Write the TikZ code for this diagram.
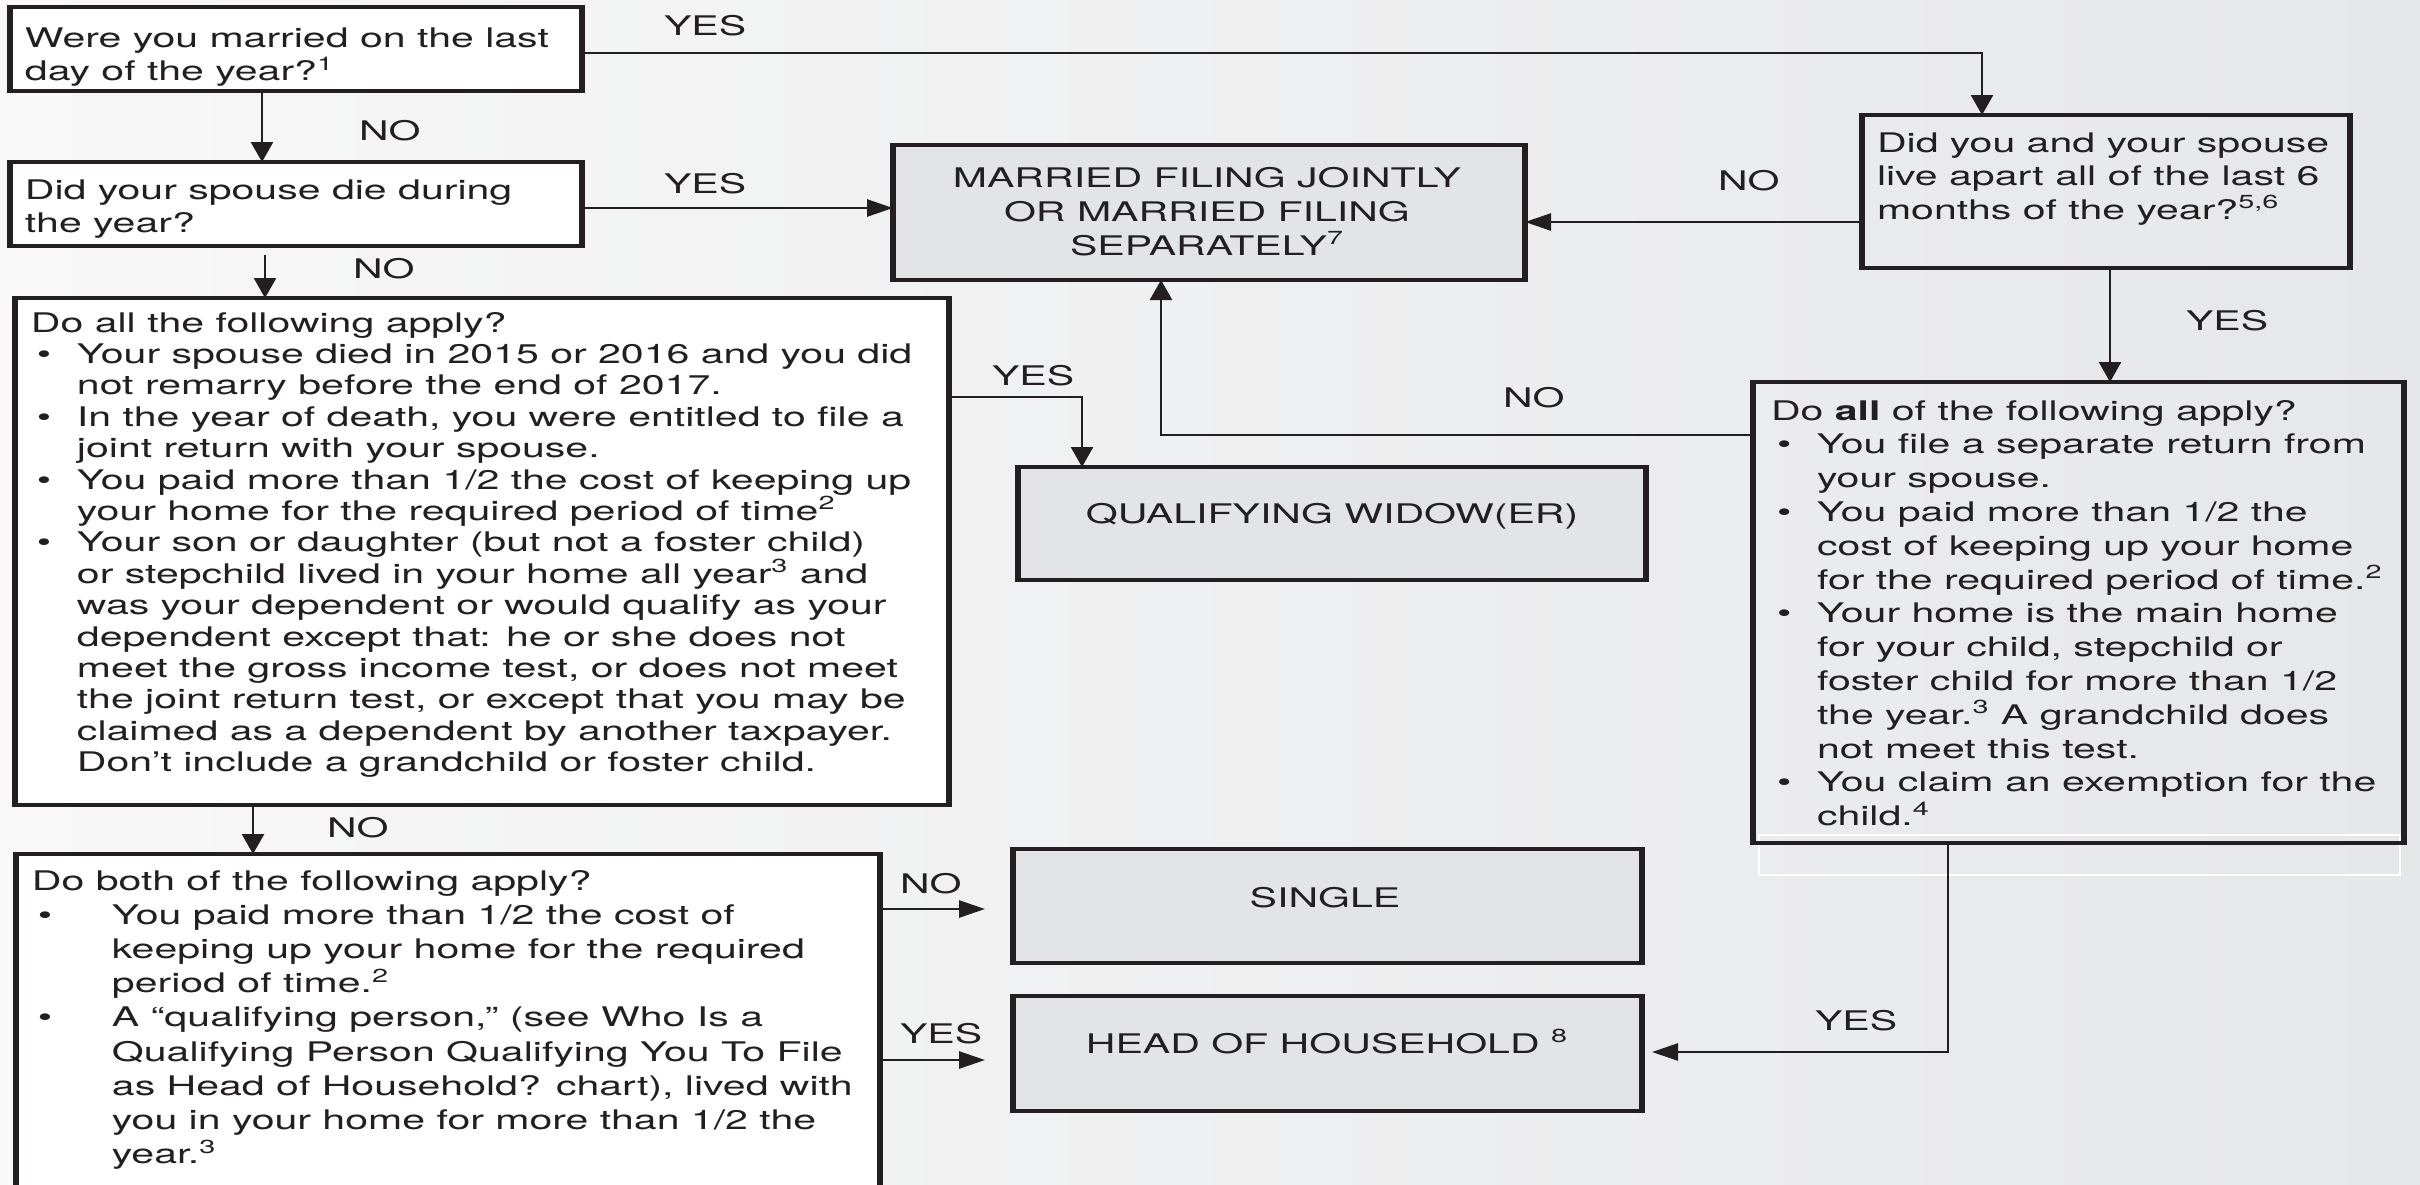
\documentclass[tikz,border=0pt]{standalone}
\usepackage{fontspec}
\setmainfont{TeX Gyre Heros}[FakeStretch=1.52]
\usetikzlibrary{arrows.meta,calc}
\definecolor{ink}{HTML}{231F20}
\definecolor{bgl}{HTML}{F8F8F8}
\definecolor{bgr}{HTML}{E6E7E9}
\definecolor{res}{HTML}{E3E4E6}
\newcommand\fl{\rule{0pt}{12pt}}
\newcommand\bA{\hspace*{3pt}\makebox[20pt][l]{\textbullet}}
\newcommand\cA{\hspace*{23pt}}
\newcommand\bB{\hspace*{3pt}\makebox[37pt][l]{\textbullet}}
\newcommand\cB{\hspace*{40pt}}
\newcommand\sps[1]{\textsuperscript{#1}}
\tikzset{
  frame/.style={draw=ink, line width=2pt, inner sep=0pt, outer sep=0pt, anchor=north west},
  vedge/.style={draw=ink, line width=3.3pt},
  txt/.style={inner sep=0pt, outer sep=0pt, text=ink, align=left, font=\fontsize{13.5}{16.75}\selectfont},
  ctxt/.style={inner sep=0pt, outer sep=0pt, text=ink, align=center, font=\fontsize{13.5}{17}\selectfont},
  lab/.style={inner sep=0pt, outer sep=0pt, text=ink, anchor=base west, font=\fontsize{13.5}{16}\selectfont},
  conn/.style={draw=ink, line width=1.3pt},
  varr/.style={conn, -{Triangle[length=10pt,width=11pt]}},
  harr/.style={conn, -{Triangle[length=13pt,width=8.5pt]}}
}
\begin{document}
\begin{tikzpicture}[x=0.5pt,y=-0.5pt]
\useasboundingbox (0,0) rectangle (2420,1184);
\shade[left color=bgl, right color=bgr] (0,0) rectangle (2420,1184);

% white outline below box 5
\draw[white, line width=0.8pt] (1759,835) rectangle (2400,875);

% boxes
\node[frame, fill=white, minimum width=286pt, minimum height=42pt] (b1) at (10,7) {};
\node[frame, fill=white, minimum width=286pt, minimum height=42pt] (b2) at (10,162) {};
\node[frame, fill=white, minimum width=467pt, minimum height=253.5pt] (b3) at (15,298) {};
\node[frame, fill=res, minimum width=316pt, minimum height=67.5pt] (mfj) at (893,145) {};
\node[frame, minimum width=244pt, minimum height=76.5pt] (b4) at (1862,115) {};
\node[frame, fill=res, minimum width=314pt, minimum height=56.5pt] (qw) at (1018,467) {};
\node[frame, minimum width=325.5pt, minimum height=230.5pt] (b5) at (1753,382) {};
\node[frame, fill=res, minimum width=314.5pt, minimum height=57pt] (single) at (1013,849) {};
\node[frame, fill=res, minimum width=314.5pt, minimum height=57.5pt] (hoh) at (1013,996) {};
\node[frame, fill=white, minimum width=432pt, minimum height=173pt] (b6) at (16,854) {};

\foreach \n in {b1,b2,b3,mfj,b4,qw,b5,single,hoh,b6}{
  \draw[vedge] ([yshift=1pt]\n.north west) -- ([yshift=-1pt]\n.south west);
  \draw[vedge] ([yshift=1pt]\n.north east) -- ([yshift=-1pt]\n.south east);
}

% texts
\node[txt, anchor=north west] (b1t) at (25,23) {\fl Were you married on the last\\day of the year?\sps{1}};
\node[txt, anchor=north west] (b2t) at (25,175) {\fl Did your spouse die during\\the year?};
\node[txt, anchor=north west, font=\fontsize{13.5}{15.7}\selectfont] (b3t) at (31,308) {\fl Do all the following apply?\\
\bA Your spouse died in 2015 or 2016 and you did\\
\cA not remarry before the end of 2017.\\
\bA In the year of death, you were entitled to file a\\
\cA joint return with your spouse.\\
\bA You paid more than 1/2 the cost of keeping up\\
\cA your home for the required period of time\sps{2}\\
\bA Your son or daughter (but not a foster child)\\
\cA or stepchild lived in your home all year\sps{3} and\\
\cA was your dependent or would qualify as your\\
\cA dependent except that: he or she does not\\
\cA meet the gross income test, or does not meet\\
\cA the joint return test, or except that you may be\\
\cA claimed as a dependent by another taxpayer.\\
\cA Don’t include a grandchild or foster child.};
\node[txt, anchor=north west] (b4t) at (1877,128) {\fl Did you and your spouse\\live apart all of the last 6\\months of the year?\sps{5,6}};
\node[ctxt, anchor=north] (mfjt) at (1207,163) {\fl MARRIED FILING JOINTLY\\OR MARRIED FILING\\SEPARATELY\sps{7}};
\node[ctxt, anchor=base] (qwt) at (1332,523) {QUALIFYING WIDOW(ER)};
\node[txt, anchor=north west, font=\fontsize{13.5}{16.9}\selectfont] (b5t) at (1771,396) {\fl Do \textbf{all} of the following apply?\\
\bA You file a separate return from\\
\cA your spouse.\\
\bA You paid more than 1/2 the\\
\cA cost of keeping up your home\\
\cA for the required period of time.\sps{2}\\
\bA Your home is the main home\\
\cA for your child, stepchild or\\
\cA foster child for more than 1/2\\
\cA the year.\sps{3} A grandchild does\\
\cA not meet this test.\\
\bA You claim an exemption for the\\
\cA child.\sps{4}};
\node[txt, anchor=north west, font=\fontsize{13.5}{17.1}\selectfont] (b6t) at (32,866) {\fl Do both of the following apply?\\
\bB You paid more than 1/2 the cost of\\
\cB keeping up your home for the required\\
\cB period of time.\sps{2}\\
\bB A “qualifying person,” (see Who Is a\\
\cB Qualifying Person Qualifying You To File\\
\cB as Head of Household? chart), lived with\\
\cB you in your home for more than 1/2 the\\
\cB year.\sps{3}};
\node[ctxt, anchor=base] (singlet) at (1325,907) {SINGLE};
\node[ctxt, anchor=base] (hoht) at (1327,1053) {HEAD OF HOUSEHOLD \sps{8}};

% labels
\node[lab] (l1) at (664,35) {YES};
\node[lab] (l2) at (359,140) {NO};
\node[lab] (l3) at (664,193) {YES};
\node[lab] (l4) at (353,278) {NO};
\node[lab] (l5) at (1718,190) {NO};
\node[lab] (l6) at (2186,330) {YES};
\node[lab] (l7) at (992,385) {YES};
\node[lab] (l8) at (1503,407) {NO};
\node[lab] (l9) at (327,837) {NO};
\node[lab] (l10) at (900,893) {NO};
\node[lab] (l11) at (900,1043) {YES};
\node[lab] (l12) at (1815,1030) {YES};

% connector coordinates
\coordinate (t1) at (1982,53);
\coordinate (xa) at (262,0);
\coordinate (xb) at (265,255);
\coordinate (yb) at (0,208);
\coordinate (yc) at (0,222);
\coordinate (xd) at (2110,0);
\coordinate (te) at (1082,397);
\coordinate (tf) at (1161,435);
\coordinate (xg) at (253,0);
\coordinate (yg) at (985,909);
\coordinate (yh) at (985,1060);
\coordinate (th) at (1948,1052);

% connectors
\draw[varr] (b1.east |- t1) -| (t1 |- b4.north);
\draw[varr] (b1.south -| xa) -- (b2.north -| xa);
\draw[harr] (b2.east |- yb) -- (mfj.west |- yb);
\draw[varr] (xb) -- (b3.north -| xb);
\draw[harr] (b4.west |- yc) -- (mfj.east |- yc);
\draw[varr] (b4.south -| xd) -- (b5.north -| xd);
\draw[varr] (b3.east |- te) -| (te |- qw.north);
\draw[varr] (b5.west |- tf) -| (tf |- mfj.south);
\draw[varr] (b3.south -| xg) -- (b6.north -| xg);
\draw[harr] (b6.east |- yg) -- (yg);
\draw[harr] (b6.east |- yh) -- (yh);
\draw[harr] (b5.south -| th) |- ([xshift=5pt]hoh.east |- th);
\end{tikzpicture}
\end{document}
